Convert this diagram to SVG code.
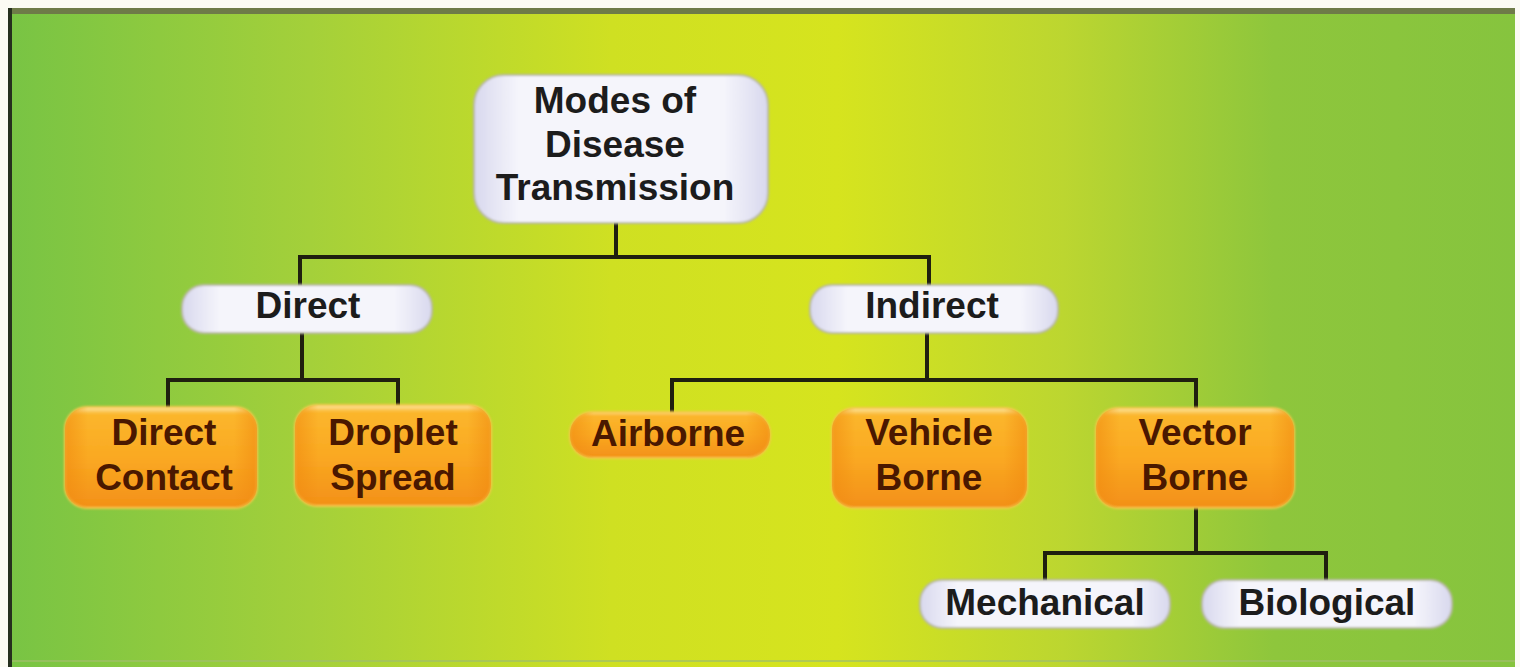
<svg xmlns="http://www.w3.org/2000/svg" width="1520" height="667" viewBox="0 0 1520 667">
  <defs>
    <linearGradient id="bg" x1="0" y1="0" x2="1" y2="0">
      <stop offset="0" stop-color="#78c444"/>
      <stop offset="0.2" stop-color="#a4d03a"/>
      <stop offset="0.4" stop-color="#cfe022"/>
      <stop offset="0.55" stop-color="#d6e41e"/>
      <stop offset="0.7" stop-color="#bcd630"/>
      <stop offset="0.84" stop-color="#8ec63c"/>
      <stop offset="1" stop-color="#86c43e"/>
    </linearGradient>
    <linearGradient id="orange" x1="0" y1="0" x2="0" y2="1">
      <stop offset="0" stop-color="#fde9a6"/>
      <stop offset="0.07" stop-color="#fbb62c"/>
      <stop offset="0.5" stop-color="#faa922"/>
      <stop offset="1" stop-color="#f39018"/>
    </linearGradient>
    <linearGradient id="orangeEdge" x1="0" y1="0" x2="1" y2="0">
      <stop offset="0" stop-color="#f08a10" stop-opacity="0.6"/>
      <stop offset="0.12" stop-color="#f08a10" stop-opacity="0"/>
      <stop offset="0.88" stop-color="#f08a10" stop-opacity="0"/>
      <stop offset="1" stop-color="#f08a10" stop-opacity="0.6"/>
    </linearGradient>
    <linearGradient id="white" x1="0" y1="0" x2="1" y2="0">
      <stop offset="0" stop-color="#d8d8ee"/>
      <stop offset="0.15" stop-color="#f5f5fb"/>
      <stop offset="0.85" stop-color="#f5f5fb"/>
      <stop offset="1" stop-color="#d8d8ee"/>
    </linearGradient>
    <filter id="soft" x="-10%" y="-20%" width="120%" height="140%">
      <feGaussianBlur stdDeviation="1.2"/>
    </filter>
    <style>
      .txt { font-family: "Liberation Sans", Arial, sans-serif; font-weight: bold; font-size: 37px; text-anchor: middle; }
      .dark { fill: #1c1c1c; }
      .brown { fill: #4a1800; }
      .wbox { fill: url(#white); stroke: #b9b9a6; stroke-width: 2; }
      .obox { fill: url(#orange); stroke: #f6c84a; stroke-width: 2; }
      .oedge { fill: url(#orangeEdge); }
      .conn { stroke: #1f1f0f; stroke-width: 4; fill: none; stroke-linecap: square; stroke-linejoin: miter; }
    </style>
  </defs>

  <rect x="0" y="0" width="1520" height="667" fill="#fbfbf3"/>
  <rect x="9" y="9" width="1506" height="658" fill="url(#bg)"/>
  <rect x="9" y="8" width="1506" height="6" fill="#6e7b48"/>
  <rect x="8" y="8" width="4" height="659" fill="#25301e"/>
  <rect x="12" y="660" width="1503" height="2" fill="#9fbf6a" opacity="0.7"/>

  <g id="connectors">
    <path class="conn" d="M616 222 V257 M300 257 H929 M300 257 V285 M929 257 V285"/>
    <path class="conn" d="M302 333 V380 M168 380 H398 M168 380 V406 M398 380 V406"/>
    <path class="conn" d="M927 333 V380 M672 380 H1196 M672 380 V412 M1196 380 V408"/>
    <path class="conn" d="M1196 508 V553 M1045 553 H1326 M1045 553 V580 M1326 553 V580"/>
  </g>

  <g id="root">
    <rect class="wbox" x="474" y="75" width="294" height="148" rx="30" filter="url(#soft)"/>
    <text class="txt dark" x="615" y="113" font-size="36">Modes of</text>
    <text class="txt dark" x="615" y="157" font-size="36">Disease</text>
    <text class="txt dark" x="615" y="200" font-size="36">Transmission</text>
  </g>

  <g id="direct">
    <rect class="wbox" x="182" y="285" width="250" height="48" rx="22" filter="url(#soft)"/>
    <text class="txt dark" x="308" y="318">Direct</text>
  </g>

  <g id="indirect">
    <rect class="wbox" x="810" y="285" width="248" height="48" rx="22" filter="url(#soft)"/>
    <text class="txt dark" x="932" y="318">Indirect</text>
  </g>

  <g id="direct-contact">
    <rect class="obox" x="65" y="407" width="192" height="101" rx="22" filter="url(#soft)"/>
    <rect class="oedge" x="65" y="407" width="192" height="101" rx="22"/>
    <text class="txt brown" x="164" y="445">Direct</text>
    <text class="txt brown" x="164" y="490">Contact</text>
  </g>

  <g id="droplet-spread">
    <rect class="obox" x="295" y="405" width="196" height="101" rx="22" filter="url(#soft)"/>
    <rect class="oedge" x="295" y="405" width="196" height="101" rx="22"/>
    <text class="txt brown" x="393" y="445">Droplet</text>
    <text class="txt brown" x="393" y="490">Spread</text>
  </g>

  <g id="airborne">
    <rect class="obox" x="570" y="412" width="200" height="46" rx="22" filter="url(#soft)"/>
    <rect class="oedge" x="570" y="412" width="200" height="46" rx="22"/>
    <text class="txt brown" x="668" y="446">Airborne</text>
  </g>

  <g id="vehicle-borne">
    <rect class="obox" x="832" y="408" width="195" height="100" rx="22" filter="url(#soft)"/>
    <rect class="oedge" x="832" y="408" width="195" height="100" rx="22"/>
    <text class="txt brown" x="929" y="445">Vehicle</text>
    <text class="txt brown" x="929" y="490">Borne</text>
  </g>

  <g id="vector-borne">
    <rect class="obox" x="1096" y="408" width="198" height="100" rx="22" filter="url(#soft)"/>
    <rect class="oedge" x="1096" y="408" width="198" height="100" rx="22"/>
    <text class="txt brown" x="1195" y="445">Vector</text>
    <text class="txt brown" x="1195" y="490">Borne</text>
  </g>

  <g id="mechanical">
    <rect class="wbox" x="920" y="580" width="250" height="48" rx="22" filter="url(#soft)"/>
    <text class="txt dark" x="1045" y="615">Mechanical</text>
  </g>

  <g id="biological">
    <rect class="wbox" x="1202" y="580" width="250" height="48" rx="22" filter="url(#soft)"/>
    <text class="txt dark" x="1327" y="615">Biological</text>
  </g>
</svg>
